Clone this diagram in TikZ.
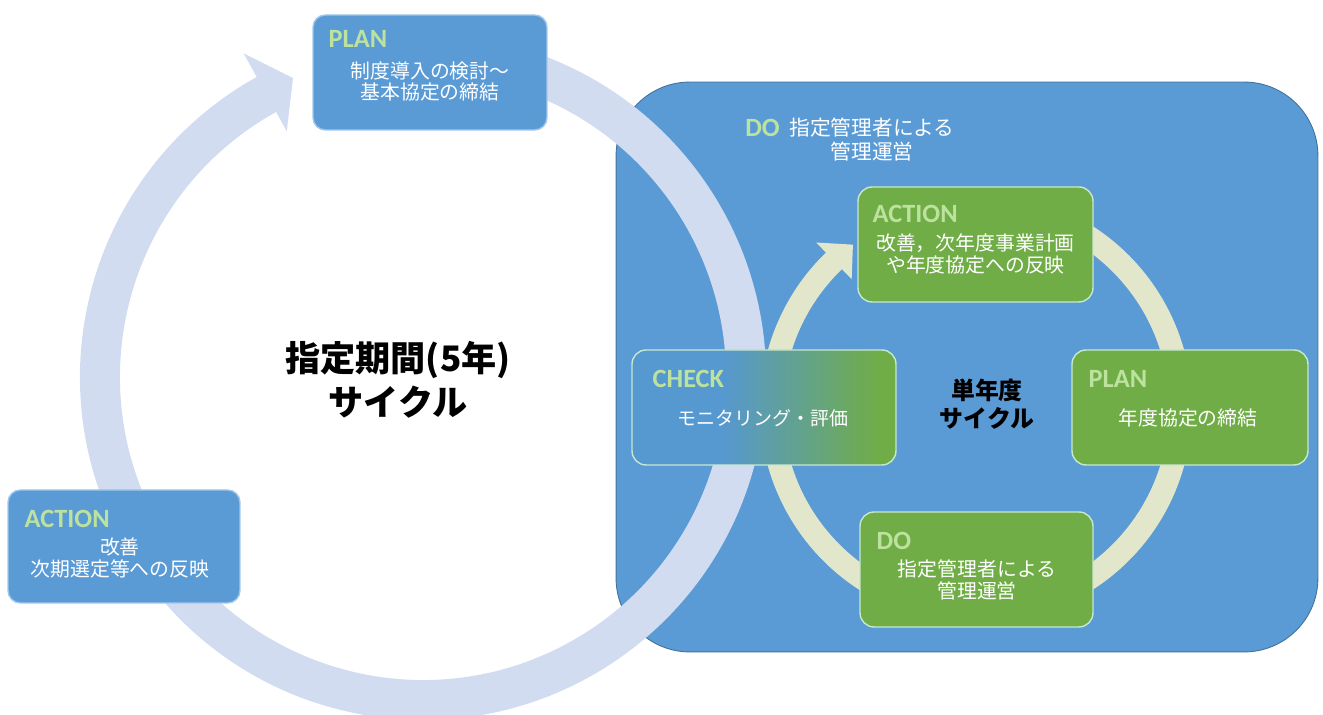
\documentclass[tikz,border=0pt]{standalone}
\usepackage{fontspec}
\setmainfont{Carlito}
\newfontfamily\jpfont{Noto Sans CJK JP}
\usetikzlibrary{positioning, calc}
\definecolor{areablue}{RGB}{91,155,213}
\definecolor{areaedge}{RGB}{65,113,156}
\definecolor{boxedge}{RGB}{160,200,236}
\definecolor{stepgreen}{RGB}{112,173,71}
\definecolor{greenedge}{RGB}{200,232,205}
\definecolor{checkblue}{RGB}{86,152,208}
\definecolor{titlegreen}{RGB}{188,226,158}
\definecolor{ringlilac}{RGB}{210,220,240}
\definecolor{ringcream}{RGB}{226,231,203}
\pgfdeclarehorizontalshading{checkshade}{100bp}{color(0bp)=(checkblue); color(42bp)=(checkblue); color(72bp)=(stepgreen); color(100bp)=(stepgreen)}

\begin{document}
\begin{tikzpicture}[
    x=0.02cm, y=0.02cm,
    bluebox/.style={draw=boxedge, line width=0.8pt, fill=areablue, rounded corners=7pt, minimum width=4.68cm, minimum height=2.3cm},
    greenbox/.style={draw=greenedge, line width=0.8pt, fill=stepgreen, rounded corners=8pt, minimum width=4.7cm, minimum height=2.3cm},
    steptitle/.style={anchor=west, inner sep=0pt, font=\fontsize{15}{18}\selectfont\bfseries, text=titlegreen},
    stepbody/.style={inner sep=0pt, align=center, font=\jpfont\fontsize{11.3}{12.5}\selectfont, text=white},
    cyclelabel/.style={inner sep=0pt, align=center, text=black}
]
    \useasboundingbox (0,0) rectangle (1323,715);

    % Yearly area
    \node[draw=areaedge, line width=0.5pt, fill=areablue, rounded corners=42pt, minimum width=14.04cm, minimum height=11.4cm] (doarea) at (967,348) {};

    % Cycle arrows
    \fill[ringlilac, shift={(423,338)}] (80:343) arc[start angle=80, end angle=-241, radius=343] -- (-241:370) -- (-246.5:326) -- (-241:281) -- (-241:303) arc[start angle=-241, end angle=80, radius=303] -- cycle;
    \fill[ringcream, shift={(976,307)}] (80:216) arc[start angle=80, end angle=-226, radius=216] -- (-226:230) -- (-233:204.5) -- (-226:179) -- (-226:193) arc[start angle=-226, end angle=80, radius=193] -- cycle;

    % Five-year cycle
    \node[bluebox] (plan5) at (430,642.5) {};
    \node[bluebox, minimum width=4.64cm, minimum height=2.26cm] (action5) at (124,168.5) {};
    \node[steptitle] (plan5title) at ($(plan5.north west)+(16,-25)$) {PLAN};
    \node[stepbody] (plan5text) at ($(plan5.center)+(0,-9)$) {制度導入の検討～\\基本協定の締結};
    \node[steptitle] (action5title) at ($(action5.north west)+(17,-30)$) {ACTION};
    \node[stepbody] (action5text) at ($(action5.center)+(-4,-11.5)$) {改善\\次期選定等への反映};
    \node[steptitle] (dotitle) at (745,587) {DO};
    \node[stepbody, font=\jpfont\fontsize{11.8}{13.6}\selectfont] (dotext) at (872,575) {指定管理者による\\管理運営};
    \node[cyclelabel, font=\jpfont\bfseries\fontsize{20}{25}\selectfont] (cycle5) at (398,335) {指定期間(5年)\\サイクル};

    % Yearly cycle
    \node[greenbox] (actionY) at (975.5,470.5) {};
    \node[greenbox, shading=checkshade, shading angle=0, minimum width=5.28cm] (checkY) at (764,307.5) {};
    \node[greenbox, minimum width=4.72cm] (planY) at (1190,307.5) {};
    \node[greenbox, minimum width=4.66cm] (doY) at (976.5,145.5) {};
    \node[steptitle] (actionYtitle) at ($(actionY.north west)+(15,-28)$) {ACTION};
    \node[stepbody] (actionYtext) at ($(actionY.center)+(0,-9.5)$) {改善，次年度事業計画\\や年度協定への反映};
    \node[steptitle] (checkYtitle) at ($(checkY.north west)+(21,-30)$) {CHECK};
    \node[stepbody, font=\jpfont\fontsize{10.8}{12.5}\selectfont] (checkYtext) at ($(checkY.center)+(-1,-10.5)$) {モニタリング・評価};
    \node[steptitle] (planYtitle) at ($(planY.north west)+(17,-30)$) {PLAN};
    \node[stepbody] (planYtext) at ($(planY.center)+(-2,-10.5)$) {年度協定の締結};
    \node[steptitle] (doYtitle) at ($(doY.north west)+(17,-30)$) {DO};
    \node[stepbody] (doYtext) at ($(doY.center)+(0.5,-10.5)$) {指定管理者による\\管理運営};
    \node[cyclelabel, font=\jpfont\bfseries\fontsize{13.6}{16}\selectfont] (cycleY) at (987,311) {単年度\\サイクル};
\end{tikzpicture}
\end{document}
